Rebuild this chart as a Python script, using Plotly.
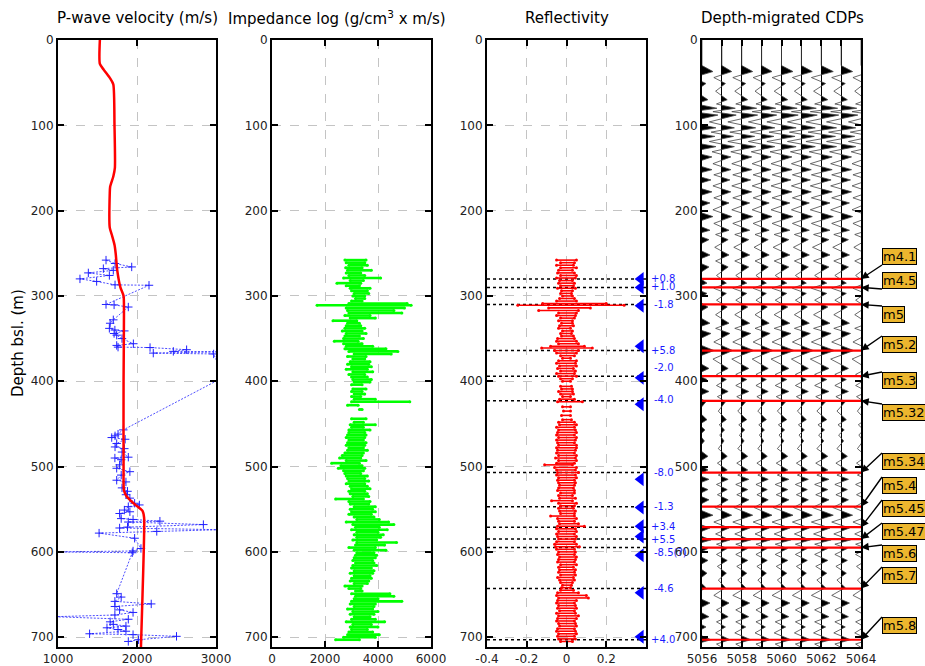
import plotly.graph_objects as go

# ---------------- data ----------------
# P-wave velocity model (smooth) and sonic-derived log
vp_model_depth = [0, 28, 35, 45, 52, 100, 150, 160, 172, 180, 220, 228, 240, 250, 270, 290, 300, 320,
                  400, 500, 528, 535, 545, 552, 560, 600, 650, 712]
vp_model = [1530, 1530, 1580, 1660, 1700, 1715, 1720, 1700, 1660, 1655, 1655, 1680, 1715, 1730, 1750,
            1790, 1830, 1835, 1830, 1830, 1835, 1870, 1980, 2070, 2090, 2085, 2070, 2050]

vp_log_depth = [258, 262, 266, 268, 270, 273, 276, 280, 283, 287, 287.5, 310, 310.5, 313, 328, 332, 338,
                340, 341, 344, 346, 350, 356, 358, 360, 360.5, 363, 365, 365.5, 367, 368, 395,
                457, 462, 464, 466, 468, 473, 477, 479, 483, 489, 490, 492, 498, 502, 506, 510,
                516, 518, 525, 529, 533, 537, 543, 545, 547, 551, 553, 555, 561, 562, 564, 565,
                568, 571, 572, 574, 576, 578, 584, 596, 599, 600, 601, 649, 653, 658, 661, 664,
                668, 671, 674, 676, 679, 682, 685, 687, 689, 691, 693, 696, 697, 699, 703, 705]
vp_log = [1608, 1722, 1933, 1574, 1700, 1384, 1650, 1278, 1489, 1722, 2152, 1608, 1710, 1890, 1700,
          1660, 1650, 1720, 1840, 1710, 1743, 1810, 1954, 1743, 1760, 2165, 2628, 2460, 3050, 2206,
          2970, 3100, 1827, 1760, 1722, 1680, 1850, 1743, 1722, 1840, 1810, 1890, 1720, 1800, 1780,
          1743, 1910, 1800, 1743, 1860, 1810, 1880, 1860, 1910, 1970, 2030, 1890, 1840, 1910, 1780,
          1800, 1950, 2290, 1890, 2840, 1880, 1780, 3050, 2250, 1520, 1970, 2050, 1950, 950, 1940,
          1743, 1800, 1720, 2180, 1720, 1780, 1950, 1720, 950, 1890, 1660, 1700, 1860, 1620, 1760,
          1860, 1400, 1950, 2500, 2020, 1890]

# Impedance log: sample depth with min / max of each sample
imp_depth = [258, 261, 264, 267, 270, 273, 276, 279, 282, 285, 288, 291, 294, 297, 300, 303, 306, 309,
             311, 314, 317, 320, 323, 326, 329, 332, 335, 338, 341, 344, 347, 350, 353, 356, 359, 362,
             365, 368, 371, 374, 377, 380, 383, 386, 389, 392, 395, 398, 401, 404, 409, 412, 415, 418,
             421, 424, 428, 433, 444, 448, 451, 454, 457, 460, 463, 466, 469, 472, 475, 478, 481, 484,
             487, 490, 493, 496, 499, 502, 505, 508, 511, 514, 517, 520, 523, 526, 529, 532, 535, 538,
             541, 544, 547, 550, 553, 556, 559, 562, 565, 568, 571, 574, 577, 580, 583, 586, 589, 592,
             595, 598, 601, 604, 607, 610, 613, 616, 619, 622, 625, 628, 631, 634, 637, 640, 643, 646,
             649, 652, 655, 658, 661, 664, 667, 670, 673, 676, 679, 682, 685, 688, 691, 694, 697, 700,
             703]
imp_lo = [2750, 2800, 2900, 2780, 2850, 2800, 2900, 2700, 2950, 2450, 2800, 2950, 3000, 3100, 3050, 3150,
          3000, 2900, 1700, 2800, 2850, 2900, 2750, 2950, 2300, 2850, 2800, 2750, 2650, 2800, 2750, 2700,
          2350, 2700, 2800, 2750, 2900, 3100, 2850, 3050, 2950, 2850, 3000, 2800, 3050, 2900, 3000, 3050,
          3100, 3000, 3050, 3000, 3100, 3000, 3100, 3000, 2850, 3300, 3000, 3100, 2950, 3000, 2900, 2900,
          2850, 2800, 2900, 2850, 2800, 2900, 2850, 2750, 2650, 2550, 2800, 2250, 2600, 2500, 2700, 2750,
          2800, 2850, 2900, 2800, 2950, 3000, 2900, 2950, 3050, 2400, 2900, 2950, 3100, 2950, 3000, 2900,
          3100, 3200, 2800, 3050, 3150, 3000, 3200, 3100, 3200, 3050, 3200, 3150, 2900, 3100, 3200, 3150,
          3100, 3050, 3150, 3050, 3000, 3100, 2950, 3100, 3000, 2950, 3100, 2750, 2900, 3150, 3000, 3150,
          3100, 3000, 2950, 3100, 2850, 3050, 2950, 3100, 3000, 2800, 3050, 2950, 3000, 2900, 2850, 2700,
          2400]
imp_hi = [3550, 3500, 3600, 3400, 3750, 3350, 3500, 4100, 3450, 3350, 3300, 3700, 3600, 3650, 3500, 3500,
          3400, 5100, 5250, 5000, 4600, 4900, 3700, 3900, 3200, 3300, 3350, 3500, 3400, 3550, 3300, 3450,
          3250, 3400, 3800, 4300, 4750, 4500, 3550, 3500, 3700, 3650, 3750, 3600, 3800, 3500, 3600, 3750,
          3700, 3400, 3550, 3400, 3500, 3350, 3900, 5200, 3250, 3400, 3550, 3450, 3900, 3450, 3700, 3500,
          3550, 3500, 3450, 3550, 3500, 3450, 3600, 3450, 3400, 3350, 3550, 3300, 3400, 3500, 3450, 3350,
          3600, 3500, 3650, 3500, 3600, 3700, 3500, 3600, 3650, 3450, 3700, 3650, 3900, 3800, 3900, 3750,
          3850, 4050, 4400, 4600, 4050, 4350, 4000, 4200, 4100, 3950, 4700, 4250, 3900, 4300, 3850, 3950,
          3900, 3800, 3850, 3950, 3750, 3850, 3800, 3700, 3750, 3650, 3600, 3400, 3350, 3400, 4450, 4600,
          4000, 4900, 3900, 3850, 3800, 4000, 3850, 3700, 3900, 4250, 3750, 4000, 3600, 3800, 4050, 3900,
          3300]

# Reflectivity series: sample depth with min / max
rc_depth = [258, 261, 264, 267, 270, 273, 276, 279, 282, 285, 288, 291, 294, 297, 300, 303, 306, 309,
            311, 314, 317, 320, 323, 326, 329, 332, 335, 338, 341, 344, 347, 350, 353, 356, 359, 361,
            364, 367, 370, 373, 376, 379, 382, 385, 388, 391, 394, 397, 400, 406, 409, 412, 415, 418,
            421, 424, 430, 435, 440, 445, 448, 451, 454, 457, 460, 463, 466, 469, 472, 475, 478, 481,
            484, 487, 490, 493, 496, 498, 501, 504, 507, 510, 513, 516, 519, 522, 525, 528, 531, 534,
            537, 540, 543, 546, 549, 552, 555, 558, 561, 564, 567, 570, 573, 576, 579, 582, 585, 588,
            591, 594, 597, 600, 603, 606, 609, 612, 615, 618, 621, 624, 627, 630, 633, 636, 639, 642,
            645, 648, 651, 654, 657, 660, 663, 666, 669, 672, 675, 678, 681, 684, 687, 690, 693, 696,
            699, 702, 705]
rc_lo = [-0.05, -0.03, -0.05, -0.03, -0.04, -0.045, -0.03, -0.05, -0.035, -0.04, -0.03, -0.045, -0.025,
         -0.03, -0.02, -0.035, -0.05, -0.12, -0.245, -0.09, -0.14, -0.04, -0.05, -0.03, -0.04, -0.025,
         -0.035, -0.04, -0.02, -0.03, -0.025, -0.045, -0.05, -0.04, -0.08, -0.125, -0.06, -0.05, -0.03,
         -0.02, -0.04, -0.05, -0.035, -0.045, -0.03, -0.05, -0.04, -0.03, -0.02, -0.03, -0.025, -0.04,
         -0.03, -0.02, -0.035, -0.045, -0.02, -0.015, -0.025, -0.02, -0.04, -0.035, -0.05, -0.04, -0.045,
         -0.05, -0.04, -0.05, -0.045, -0.04, -0.05, -0.045, -0.05, -0.04, -0.055, -0.04, -0.05, -0.11,
         -0.06, -0.05, -0.045, -0.05, -0.04, -0.045, -0.04, -0.035, -0.04, -0.045, -0.03, -0.04, -0.035,
         -0.075, -0.04, -0.03, -0.04, -0.035, -0.03, -0.08, -0.045, -0.04, -0.035, -0.045, -0.05, -0.04,
         -0.05, -0.045, -0.04, -0.05, -0.06, -0.055, -0.05, -0.04, -0.045, -0.035, -0.04, -0.045, -0.03,
         -0.04, -0.035, -0.04, -0.03, -0.045, -0.035, -0.03, -0.02, -0.025, -0.03, -0.045, -0.05, -0.04,
         -0.045, -0.05, -0.04, -0.045, -0.035, -0.05, -0.04, -0.045, -0.05, -0.04, -0.035, -0.045, -0.05,
         -0.04, -0.045, -0.04, -0.03]
rc_hi = [0.05, 0.04, 0.035, 0.05, 0.03, 0.04, 0.05, 0.045, 0.03, 0.04, 0.035, 0.045, 0.03, 0.025, 0.03,
         0.04, 0.05, 0.2, 0.29, 0.12, 0.06, 0.05, 0.045, 0.04, 0.03, 0.03, 0.035, 0.02, 0.03, 0.025, 0.035,
         0.04, 0.05, 0.06, 0.09, 0.13, 0.06, 0.05, 0.04, 0.02, 0.05, 0.045, 0.05, 0.035, 0.045, 0.04, 0.05,
         0.03, 0.02, 0.025, 0.03, 0.03, 0.035, 0.02, 0.04, 0.08, 0.02, 0.02, 0.02, 0.025, 0.04, 0.05, 0.04,
         0.045, 0.05, 0.04, 0.05, 0.045, 0.04, 0.05, 0.05, 0.045, 0.04, 0.05, 0.045, 0.05, 0.04, 0.03, 0.05,
         0.045, 0.06, 0.045, 0.05, 0.04, 0.045, 0.04, 0.035, 0.04, 0.04, 0.03, 0.045, 0.03, 0.05, 0.04,
         0.035, 0.045, 0.04, 0.04, 0.05, 0.04, 0.06, 0.09, 0.045, 0.05, 0.04, 0.05, 0.045, 0.04, 0.05,
         0.065, 0.04, 0.045, 0.04, 0.05, 0.045, 0.04, 0.05, 0.035, 0.045, 0.04, 0.045, 0.035, 0.04, 0.03,
         0.025, 0.02, 0.035, 0.06, 0.1, 0.11, 0.05, 0.04, 0.045, 0.05, 0.04, 0.045, 0.06, 0.05, 0.04,
         0.045, 0.05, 0.04, 0.045, 0.05, 0.04, 0.045, 0.03]

# Interpreted horizons and reflection coefficients at them
horizon_depth = [280, 290, 310, 364, 394, 423, 507, 547, 571, 585, 595, 643, 703]
horizon_name = ["m4.1", "m4.5", "m5", "m5.2", "m5.3", "m5.32", "m5.34", "m5.4", "m5.45",
                "m5.47", "m5.6", "m5.7", "m5.8"]
pick_depth = [280, 290, 311.5, 359, 396, 427, 515, 548, 570, 582, 604, 648, 699.5]
pick_label = ["+0.8", "+1.0", "-1.8", "+5.8", "-2.0", "-4.0", "-8.0", "-1.3", "+3.4", "+5.5",
              "-8.5(?)", "-4.6", "+4.0"]

# Depth-migrated CDP gathers: picked peak/trough sequence and per-CDP gain
cdp_numbers = [5056, 5057, 5058, 5059, 5060, 5061, 5062, 5063, 5064]
cdp_gain = [1.0, 0.9, 1.0, 0.95, 1.05, 1.0, 1.1, 1.05, 0.9]
seis_depth = [0, 30, 37, 44, 51, 60, 70, 75, 80, 84, 88, 96, 103, 108, 113, 119, 125, 131, 137, 145,
              152, 158, 164, 171, 178, 185, 191, 199, 207, 215, 223, 228, 234, 243, 252, 259, 266, 276,
              285, 291, 297, 305, 313, 322, 332, 338, 344, 354, 364, 374, 385, 392, 398, 405, 412, 418,
              424, 435, 445, 451, 457, 463, 470, 479, 488, 496, 504, 510, 515, 521, 527, 533, 539, 548,
              557, 565, 572, 579, 586, 591, 596, 603, 610, 617, 625, 633, 642, 651, 660, 668, 676, 682,
              688, 695, 703, 708, 712]
seis_amp = [0, 0, 0.55, -0.45, 0.2, -0.35, 0.3, -0.3, 0.75, -0.5, 0.8, -0.7, 0.7, -0.6, 0.65, -0.7,
            0.7, -0.55, 0.5, -0.5, 0.5, -0.45, 0.45, -0.5, 0.5, -0.45, 0.4, -0.5, 0.55, -0.45, 0.4,
            -0.35, 0.35, -0.4, 0.4, -0.35, 0.35, -0.3, 0.25, -0.45, 0.25, -0.3, 0.3, -0.35, 0.4, -0.35,
            0.45, -0.45, 0.6, -0.5, 0.35, -0.3, 0.25, -0.3, 0.35, -0.25, 0.2, -0.2, 0.25, -0.15, 0.15,
            -0.12, 0.12, -0.2, 0.3, -0.25, 0.3, -0.2, 0.35, -0.3, 0.3, -0.25, 0.35, -0.4, 0.55, -0.45,
            0.4, -0.35, 0.45, -0.3, 0.3, -0.3, 0.3, -0.25, 0.25, -0.2, 0.2, -0.45, 0.4, -0.3, 0.35, -0.3,
            0.2, -0.35, 0.45, -0.3, 0]

# ---------------- layout geometry (pixels) ----------------
W, H = 925, 666
TOP, BOTTOM = 40, 647
panels_px = [(58, 216), (272, 431), (487, 646), (702, 861)]
DEPTH_MAX = 711.5


def fx(p):
    return p / W


def fy(p):
    return 1 - p / H


def depth_px(d):
    return TOP + d * (BOTTOM - TOP) / DEPTH_MAX


fig = go.Figure()

# --- panel 1: velocity
fig.add_trace(go.Scatter(x=vp_log, y=vp_log_depth, mode="lines+markers", xaxis="x", yaxis="y",
                         line=dict(color="#2020ff", width=0.8, dash="2px,1.5px"),
                         marker=dict(symbol="cross-thin", size=6, line=dict(width=1, color="#2020ff"))))
fig.add_trace(go.Scatter(x=vp_model, y=vp_model_depth, mode="lines", xaxis="x", yaxis="y",
                         line=dict(color="#ff0000", width=2.5, shape="spline", smoothing=0.6)))


def segments(depths, lo, hi):
    xs, ys = [], []
    for d, a, b in zip(depths, lo, hi):
        xs += [a, b, None]
        ys += [d, d, None]
    return xs, ys


# --- panel 2: impedance
sx, sy = segments(imp_depth, imp_lo, imp_hi)
fig.add_trace(go.Scatter(x=sx, y=sy, mode="lines+markers", xaxis="x2", yaxis="y2",
                         line=dict(color="#00ff00", width=2.6), marker=dict(size=3, color="#00ff00")))

# --- panel 3: reflectivity
hx, hy = [], []
for d in horizon_depth:
    hx += [-0.4, 0.4, None]
    hy += [d, d, None]
fig.add_trace(go.Scatter(x=hx, y=hy, mode="lines", xaxis="x3", yaxis="y3",
                         line=dict(color="black", width=1.5, dash="dot")))
sx, sy = segments(rc_depth, rc_lo, rc_hi)
fig.add_trace(go.Scatter(x=sx, y=sy, mode="lines+markers", xaxis="x3", yaxis="y3",
                         line=dict(color="#ff0000", width=1.6), marker=dict(size=3, color="#ff0000")))
fig.add_trace(go.Scatter(x=[0.373] * len(pick_depth), y=pick_depth, mode="markers", xaxis="x3", yaxis="y3",
                         cliponaxis=False,
                         marker=dict(symbol="triangle-left", size=12, color="#0000ff")))
for lab, d in zip(pick_label, [280, 289, 310, 364, 384, 421, 506.5, 547, 570, 585, 601, 643, 702.6]):
    fig.add_annotation(x=fx(649), xref="paper", y=d, yref="y3", text=lab, showarrow=False,
                       xanchor="left", yanchor="middle", xshift=3 if lab.startswith("-") else 0,
                       font=dict(size=10, color="#1a1aff"))

# --- panel 4: seismic wiggles
for x0, g in zip(cdp_numbers, cdp_gain):
    amps = [a * g for a in seis_amp]
    # filled positive lobes
    px_, py_ = [], []
    for k in range(1, len(seis_depth) - 1):
        a = amps[k]
        if a <= 0:
            continue
        d = seis_depth[k]
        dp, ap = seis_depth[k - 1], amps[k - 1]
        dn, an = seis_depth[k + 1], amps[k + 1]
        z0 = dp + (d - dp) * (-ap) / (a - ap) if ap < 0 else dp
        z1 = d + (dn - d) * a / (a - an) if an < 0 else dn
        px_ += [x0, x0 + a, x0, None]
        py_ += [z0, d, z1, None]
    fig.add_trace(go.Scatter(x=px_, y=py_, mode="lines", fill="toself", fillcolor="black",
                             line=dict(width=0, color="black"), xaxis="x4", yaxis="y4"))
    fig.add_trace(go.Scatter(x=[x0 + a for a in amps], y=seis_depth, mode="lines",
                             line=dict(color="#444444", width=0.8), xaxis="x4", yaxis="y4"))

hx, hy = [], []
for d in horizon_depth:
    hx += [5056, 5064, None]
    hy += [d, d, None]
fig.add_trace(go.Scatter(x=hx, y=hy, mode="lines", xaxis="x4", yaxis="y4",
                         line=dict(color="#ff0000", width=2.2)))

# horizon name tags with arrows pointing at the right edge of the CDP panel
tag_tail_px = [265, 289, 306, 336, 372, 404, 453, 477, 500, 523, 545, 567, 617]
tag_anchor = ["bottom", "bottom"] + ["top"] * 11
for name, d, tpx, anc in zip(horizon_name, horizon_depth, tag_tail_px, tag_anchor):
    fig.add_annotation(x=5064, y=d, xref="x4", yref="y4", text=name, showarrow=True,
                       axref="pixel", ax=882 - 861, ayref="pixel", ay=tpx - depth_px(d),
                       xanchor="left", yanchor=anc,
                       arrowhead=2, arrowsize=1.1, arrowwidth=1.4, arrowcolor="black", standoff=0,
                       bgcolor="#ecb62e", bordercolor="black", borderwidth=1, borderpad=0,
                       font=dict(size=13, color="black"))

# titles
titles = [("P-wave velocity (m/s)", 137), ("Impedance log (g/cm<sup>3</sup> x m/s)", 337),
          ("Reflectivity", 567), ("Depth-migrated CDPs", 782)]
for t, cx in titles:
    fig.add_annotation(x=fx(cx), y=fy(18), xref="paper", yref="paper", text=t, showarrow=False,
                       xanchor="center", yanchor="middle", font=dict(size=15, color="black"))
fig.add_annotation(x=fx(18), y=fy(343), xref="paper", yref="paper", text="Depth bsl. (m)",
                   showarrow=False, textangle=-90, xanchor="center", yanchor="middle",
                   font=dict(size=15, color="black"))

# ---------------- axes ----------------
base = dict(showline=True, linecolor="black", linewidth=2, mirror="ticks", ticks="inside",
            ticklen=6, tickwidth=2, tickcolor="black", zeroline=False, automargin=False,
            tickfont=dict(size=12, color="#222222"),
            showgrid=True, gridcolor="#c4c4c4", gridwidth=1, griddash="dash")
ydom = [fy(BOTTOM), fy(TOP)]
xranges = [[1000, 3000], [0, 6000], [-0.4, 0.4], [5056, 5064]]
xticks = [[1000, 2000, 3000], [0, 2000, 4000, 6000], [-0.4, -0.2, 0, 0.2], cdp_numbers]
xtext = [["1000", "2000", "3000"], ["0", "2000", "4000", "6000"], ["-0.4", "-0.2", "0", "0.2"],
         [str(c) if c % 2 == 0 else " " for c in cdp_numbers]]
layout = {}
for i, (p0, p1) in enumerate(panels_px):
    sfx = "" if i == 0 else str(i + 1)
    xa = dict(base, domain=[fx(p0), fx(p1)], range=xranges[i], tickvals=xticks[i], ticktext=xtext[i],
              anchor="y" + sfx)
    ya = dict(base, domain=ydom, range=[DEPTH_MAX, 0], tickvals=[0, 100, 200, 300, 400, 500, 600, 700],
              anchor="x" + sfx)
    if i == 3:
        xa.update(griddash="solid", gridcolor="black", gridwidth=0.8)
        ya.update(showgrid=False)
    layout["xaxis" + sfx] = xa
    layout["yaxis" + sfx] = ya

fig.update_layout(**layout)
fig.update_layout(width=W, height=H, margin=dict(l=0, r=0, t=0, b=0, autoexpand=False),
                  showlegend=False, plot_bgcolor="white", paper_bgcolor="white",
                  font=dict(family="DejaVu Sans", color="black"))

fig.write_html("out.html")
